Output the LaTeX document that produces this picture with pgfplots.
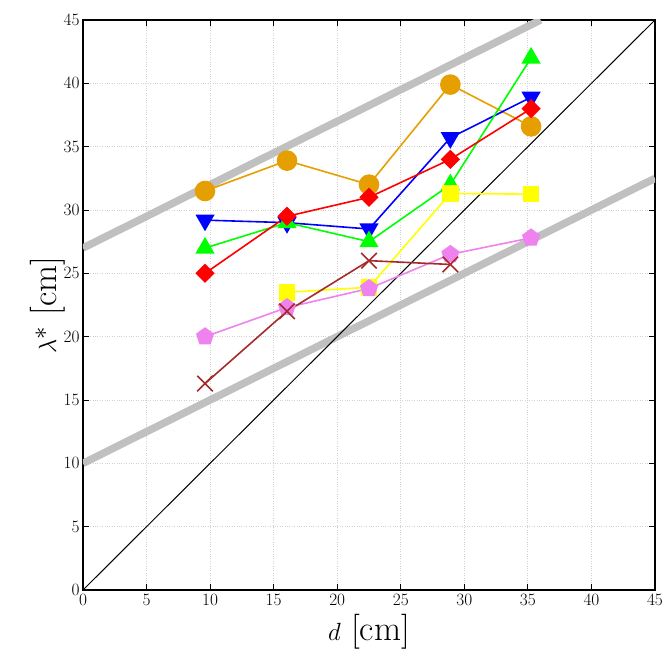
\documentclass[border=0pt]{standalone}
\usepackage{pgfplots}
\pgfplotsset{compat=1.18}
\usetikzlibrary{plotmarks}
\definecolor{orng}{RGB}{230,159,0}
\definecolor{brwn}{RGB}{165,42,42}
\definecolor{viol}{RGB}{238,130,238}
\definecolor{yel}{RGB}{255,255,0}
\definecolor{gry}{RGB}{192,192,192}
\begin{document}
\begin{tikzpicture}
\begin{axis}[
  name=ax,
  scale only axis,
  width=572pt, height=570pt,
  xmin=0, xmax=45, ymin=0, ymax=45,
  xtick={0,5,...,45}, ytick={0,5,...,45},
  tick align=inside, tick pos=both,
  major tick length=6pt,
  grid=major,
  grid style={dotted, gray!35, line width=0.8pt},
  axis line style={line width=1.2pt},
  tick style={black, line width=0.8pt},
  ticklabel style={font=\fontsize{17.5}{18}\selectfont},
  xticklabel style={yshift=-1pt},
  xlabel={$d$ [cm]}, ylabel={$\lambda^*$ [cm]},
  label style={font=\fontsize{35}{38}\selectfont},
  xlabel style={yshift=-2pt},
  ylabel style={yshift=-8pt},
  clip=true,
]
\addplot[gry, line width=7.5pt] coordinates {(0,27) (36,45)};
\addplot[gry, line width=7.5pt] coordinates {(0,10) (45,32.5)};
\addplot[black, line width=1pt] coordinates {(0,0) (45,45)};

\addplot[orng, line width=1.6pt, mark=*, mark size=9.5pt, mark options={fill=orng, draw=orng}] coordinates {
(9.6,31.5) (16.05,33.9) (22.5,32.0) (28.9,39.9) (35.25,36.6)};
\addplot[blue, line width=1.6pt, mark=triangle*, mark size=9.5pt, mark options={fill=blue, draw=blue, rotate=180}] coordinates {
(9.6,29.2) (16.05,29.0) (22.5,28.5) (28.9,35.7) (35.25,38.9)};
\addplot[green, line width=1.6pt, mark=triangle*, mark size=9.5pt, mark options={fill=green, draw=green}] coordinates {
(9.6,27.0) (16.05,29.0) (22.5,27.5) (28.9,32.0) (35.25,42.0)};
\addplot[red, line width=1.6pt, mark=square*, mark size=6pt, mark options={fill=red, draw=red, rotate=45}] coordinates {
(9.6,25.0) (16.05,29.5) (22.5,31.0) (28.9,34.0) (35.25,38.0)};
\addplot[yel, line width=1.6pt, mark=square*, mark size=7.5pt, mark options={fill=yel, draw=yel}] coordinates {
(16.05,23.5) (22.5,23.9) (28.9,31.3) (35.25,31.25)};
\addplot[viol, line width=1.6pt, mark=pentagon*, mark size=8.5pt, mark options={fill=viol, draw=viol}] coordinates {
(9.6,20.0) (16.05,22.3) (22.5,23.8) (28.9,26.5) (35.25,27.8)};
\addplot[brwn, line width=1.6pt, mark=x, mark size=11pt, mark options={draw=brwn, line width=1.6pt}] coordinates {
(9.6,16.3) (16.05,22.0) (22.5,26.0) (28.9,25.7)};
\end{axis}
\useasboundingbox ([shift={(-83pt,-71pt)}]ax.south west) rectangle ([shift={(17pt,20pt)}]ax.north east);
\end{tikzpicture}
\end{document}
